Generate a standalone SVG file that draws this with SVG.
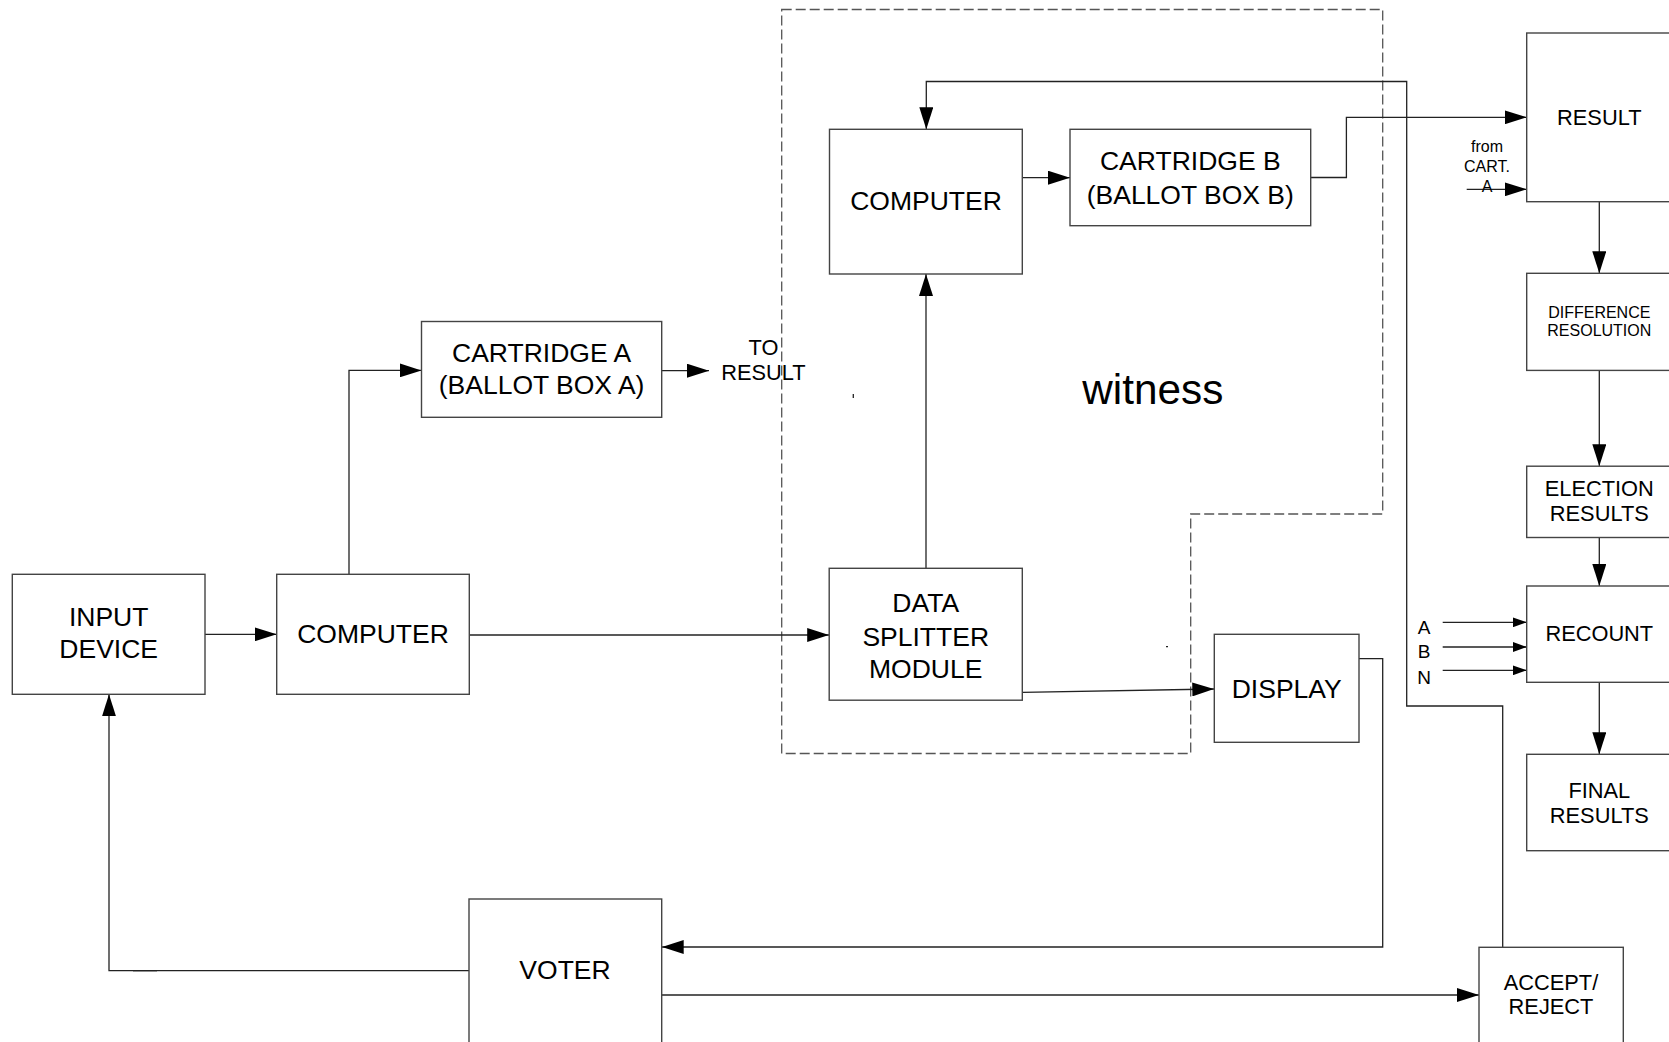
<svg xmlns="http://www.w3.org/2000/svg" width="1669" height="1042" viewBox="0 0 1669 1042">
<style>
.box{fill:#fff;stroke:#444;stroke-width:1.4}
.ln{fill:none;stroke:#222;stroke-width:1.3}
.dash{fill:none;stroke:#555;stroke-width:1.3;stroke-dasharray:10 4}
text{font-family:"Liberation Sans",Arial,sans-serif;fill:#000;text-anchor:middle}
.t25{font-size:26.5px}
.t21{font-size:21.8px}
.t19{font-size:19px}
.t15{font-size:16px}
.tw{font-size:42.3px}
</style>
<defs>
<marker id="arr" markerUnits="userSpaceOnUse" markerWidth="22" markerHeight="14" refX="22" refY="7" orient="auto">
<path d="M0,0 L22,7 L0,14 Z" fill="#000"/>
</marker>
<marker id="arrs" markerUnits="userSpaceOnUse" markerWidth="14" markerHeight="10" refX="14" refY="5" orient="auto">
<path d="M0,0 L14,5 L0,10 Z" fill="#000"/>
</marker>
</defs>
<rect width="1669" height="1042" fill="#fff"/>

<path class="dash" d="M781.7,9.5 H1382.7 V514 H1190.7 V753.5 H781.7 Z"/>
<text class="tw" x="1152.8" y="403.5">witness</text>

<g id="connectors">
<path class="ln" d="M205,634.3 H276.7" marker-end="url(#arr)"/>
<path class="ln" d="M349,586 V370.4 H421.5" marker-end="url(#arr)"/>
<path class="ln" d="M661.7,370.7 H709" marker-end="url(#arr)"/>
<path class="ln" d="M469.3,635 H829.2" marker-end="url(#arr)"/>
<path class="ln" d="M926,568.3 V274" marker-end="url(#arr)"/>
<path class="ln" d="M1022.3,177.7 H1070" marker-end="url(#arr)"/>
<path class="ln" d="M1310.7,177.5 H1346.4 V117.3 H1526.7" marker-end="url(#arr)"/>
<path class="ln" d="M1466.7,189.3 H1526.7" marker-end="url(#arr)"/>
<path class="ln" d="M1502.7,947.3 V706 H1406.7 V81.5 H926.3 V129.3" marker-end="url(#arr)"/>
<path class="ln" d="M1022.3,692.3 L1214.3,689" marker-end="url(#arr)"/>
<path class="ln" d="M1359,658.7 H1382.7 V947 H661.7" marker-end="url(#arr)"/>
<path class="ln" d="M469,970.7 H109 V694.3" marker-end="url(#arr)"/>
<path class="ln" d="M133,970.7 H157" stroke-width="2.2"/>
<path class="ln" d="M661.7,995 H1479" marker-end="url(#arr)"/>
<path class="ln" d="M1599.3,201.7 V273.3" marker-end="url(#arr)"/>
<path class="ln" d="M1599.3,370.4 V466.2" marker-end="url(#arr)"/>
<path class="ln" d="M1599.3,537.5 V586" marker-end="url(#arr)"/>
<path class="ln" d="M1599.3,682.3 V754.3" marker-end="url(#arr)"/>
<path class="ln" d="M1442.7,622.3 H1526.7" marker-end="url(#arrs)"/>
<path class="ln" d="M1442.7,647 H1526.7" marker-end="url(#arrs)"/>
<path class="ln" d="M1442.7,670.3 H1526.7" marker-end="url(#arrs)"/>
<path class="ln" d="M853.3,394 V398"/>
<path class="ln" d="M1166,646.7 H1168"/>
</g>

<g id="input-device">
<rect class="box" x="12.3" y="574.3" width="192.7" height="120"/>
<text class="t25" x="108.7" y="626">INPUT</text>
<text class="t25" x="108.7" y="657.6">DEVICE</text>
</g>
<g id="computer-a">
<rect class="box" x="276.7" y="574.3" width="192.6" height="120"/>
<text class="t25" x="373" y="642.6">COMPUTER</text>
</g>
<g id="cartridge-a">
<rect class="box" x="421.5" y="321.5" width="240.2" height="95.8"/>
<text class="t25" x="541.6" y="361.6">CARTRIDGE A</text>
<text class="t25" x="541.6" y="393.6">(BALLOT BOX A)</text>
</g>
<g id="to-result">
<text class="t21" x="763.5" y="355">TO</text>
<text class="t21" x="763.5" y="380">RESULT</text>
</g>
<g id="computer-b">
<rect class="box" x="829.5" y="129.3" width="192.8" height="144.7"/>
<text class="t25" x="926" y="210.3">COMPUTER</text>
</g>
<g id="cartridge-b">
<rect class="box" x="1070" y="129.3" width="240.7" height="96.4"/>
<text class="t25" x="1190.3" y="170.3">CARTRIDGE B</text>
<text class="t25" x="1190.3" y="203.6">(BALLOT BOX B)</text>
</g>
<g id="data-splitter">
<rect class="box" x="829.2" y="568.3" width="193.1" height="131.9"/>
<text class="t25" x="925.7" y="611.8">DATA</text>
<text class="t25" x="925.7" y="645.8">SPLITTER</text>
<text class="t25" x="925.7" y="677.8">MODULE</text>
</g>
<g id="display">
<rect class="box" x="1214.3" y="634.3" width="144.7" height="108"/>
<text class="t25" x="1286.7" y="697.6">DISPLAY</text>
</g>
<g id="voter">
<rect class="box" x="469" y="899" width="192.7" height="160"/>
<text class="t25" x="565" y="979.3">VOTER</text>
</g>
<g id="accept-reject">
<rect class="box" x="1479" y="947.3" width="144.3" height="120"/>
<text class="t21" x="1551" y="990.4">ACCEPT/</text>
<text class="t21" x="1551" y="1013.7">REJECT</text>
</g>
<g id="result">
<rect class="box" x="1526.7" y="33" width="146" height="168.7"/>
<text class="t21" x="1599.3" y="125">RESULT</text>
</g>
<g id="from-cart-a">
<text class="t15" x="1487" y="151.7">from</text>
<text class="t15" x="1487" y="171.7">CART.</text>
<text class="t15" x="1487" y="191.7">A</text>
</g>
<g id="difference-resolution">
<rect class="box" x="1526.7" y="273.3" width="146" height="97.1"/>
<text class="t15" x="1599.3" y="317.7">DIFFERENCE</text>
<text class="t15" x="1599.3" y="336.4">RESOLUTION</text>
</g>
<g id="election-results">
<rect class="box" x="1526.7" y="466.2" width="146" height="71.3"/>
<text class="t21" x="1599.3" y="496.2">ELECTION</text>
<text class="t21" x="1599.3" y="520.7">RESULTS</text>
</g>
<g id="recount">
<rect class="box" x="1526.7" y="586" width="146" height="96.3"/>
<text class="t21" x="1599.3" y="641">RECOUNT</text>
</g>
<g id="abn-labels">
<text class="t19" x="1424" y="633.5">A</text>
<text class="t19" x="1424" y="657.5">B</text>
<text class="t19" x="1424" y="683.5">N</text>
</g>
<g id="final-results">
<rect class="box" x="1526.7" y="754.3" width="146" height="96.4"/>
<text class="t21" x="1599.3" y="797.7">FINAL</text>
<text class="t21" x="1599.3" y="822.7">RESULTS</text>
</g>
</svg>
